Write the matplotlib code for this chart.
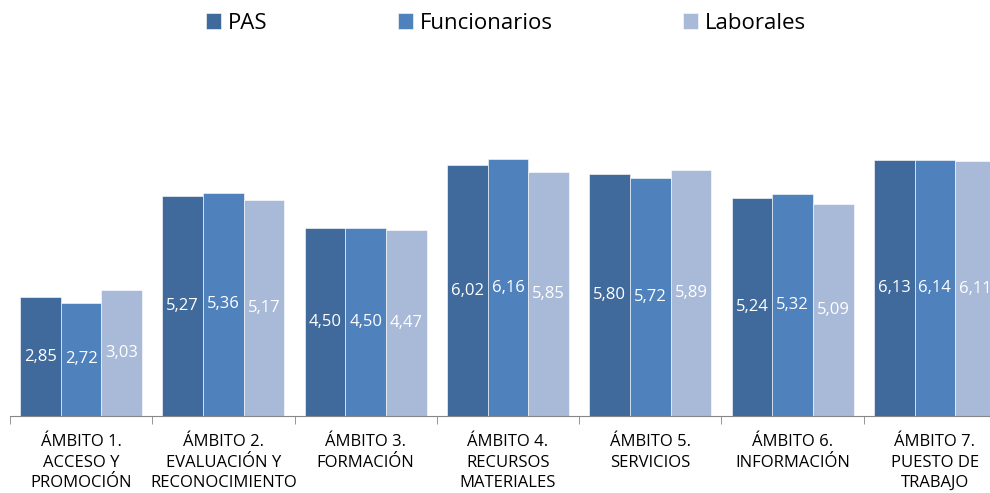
import numpy as np
import matplotlib
matplotlib.use('Agg')
import matplotlib.pyplot as plt

plt.rcParams['font.family'] = ['Open Sans', 'DejaVu Sans']

categories = ["ÁMBITO 1.\nACCESO Y\nPROMOCIÓN",
              "ÁMBITO 2.\nEVALUACIÓN Y\nRECONOCIMIENTO",
              "ÁMBITO 3.\nFORMACIÓN",
              "ÁMBITO 4.\nRECURSOS\nMATERIALES",
              "ÁMBITO 5.\nSERVICIOS",
              "ÁMBITO 6.\nINFORMACIÓN",
              "ÁMBITO 7.\nPUESTO DE\nTRABAJO"]
series_names = ["PAS", "Funcionarios", "Laborales"]
pas = [2.85, 5.27, 4.50, 6.02, 5.80, 5.24, 6.13]
funcionarios = [2.72, 5.36, 4.50, 6.16, 5.72, 5.32, 6.14]
laborales = [3.03, 5.17, 4.47, 5.85, 5.89, 5.09, 6.11]
colors = ["#406A9C", "#4F81BD", "#A9B9D8"]

fig = plt.figure(figsize=(9.9, 4.93), dpi=100)
ax = fig.add_axes([10/990, 1 - 416/493, 996/990, (416 - 125)/493])

x = np.arange(len(categories))
w = 0.286
for i, (vals, name, c) in enumerate(zip([pas, funcionarios, laborales], series_names, colors)):
    bars = ax.bar(x + (i - 1) * w, vals, w, color=c, label=name,
                  edgecolor='#ffffff', linewidth=0.4)
    for b, v in zip(bars, vals):
        ax.text(b.get_x() + b.get_width() / 2, v / 2, f"{v:.2f}".replace('.', ','),
                ha='center', va='center', color='white', fontsize=12)

ax.set_xlim(-0.5, len(categories) - 0.5)
ax.set_ylim(0, 6.98)
ax.set_yticks([])
for s in ['top', 'right', 'left']:
    ax.spines[s].set_visible(False)
ax.spines['bottom'].set_color('#868686')

ax.set_xticks(x)
ax.set_xticklabels(categories, fontsize=12, linespacing=1.38)
ax.set_xticks(np.arange(len(categories) + 1) - 0.5, minor=True)
ax.tick_params(axis='x', which='major', length=0, pad=13)
ax.tick_params(axis='x', which='minor', length=6, color='#868686')

fig.legend(loc='center', bbox_to_anchor=(0.511, 0.953), ncol=3, frameon=False,
           fontsize=16, handlelength=0.68, handleheight=0.68, handletextpad=0.32,
           columnspacing=5.85)

fig.savefig('out.png', dpi=100)
